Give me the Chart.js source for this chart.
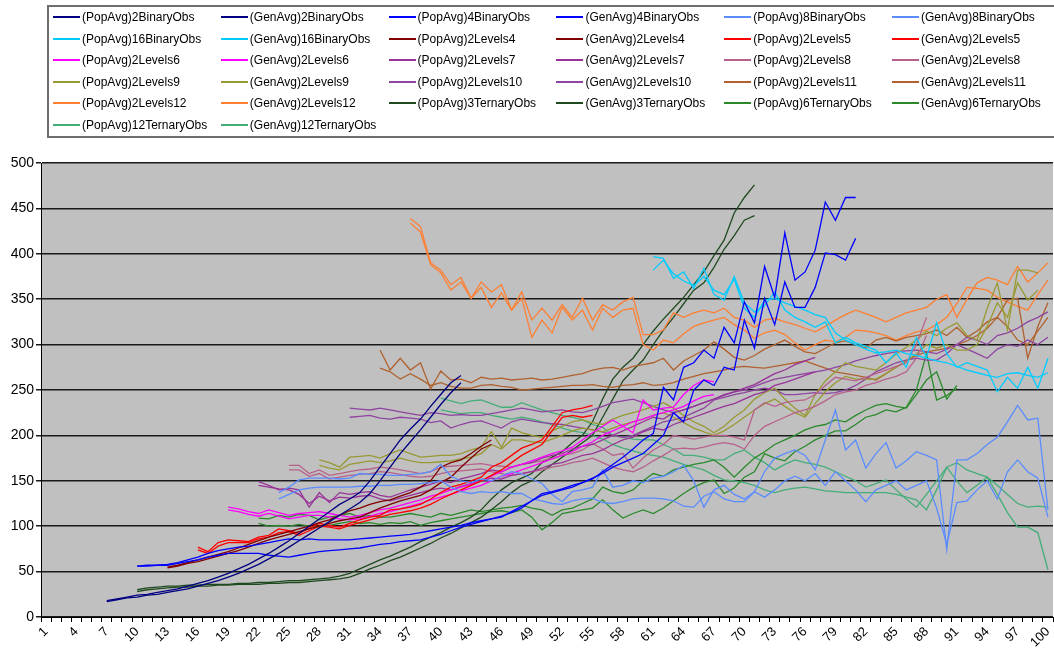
<!DOCTYPE html>
<html>
<head>
<meta charset="utf-8">
<script src="https://cdn.jsdelivr.net/npm/chart.js@4.4.1/dist/chart.umd.min.js"></script>
<style>
body { margin: 0; background: #fff; }
#wrap { position: relative; width: 1054px; height: 654px; overflow: hidden; }
#chart { position: absolute; left: 0; top: 0; }
#legend { position: absolute; left: 47px; top: 5px; width: 1030px; height: 129px; border: 2px solid #6e6e6e; }
.item { position: absolute; height: 14px; font: 12px "Liberation Sans", Arial, sans-serif; color: #000; white-space: nowrap; line-height: 14px; }
.item .ln { position: absolute; left: 0; top: 6px; width: 27px; height: 2px; }
.item .tx { position: absolute; left: 29px; top: 0; }
</style>
</head>
<body>
<div id="wrap">
  <canvas id="chart" width="1054" height="654"></canvas>
  <div id="legend"></div>
</div>
<script>
// --- generations (x categories) ---
const generations = ['1','2','3','4','5','6','7','8','9','10','11','12','13','14','15','16','17','18','19','20',
  '21','22','23','24','25','26','27','28','29','30','31','32','33','34','35','36','37','38','39','40',
  '41','42','43','44','45','46','47','48','49','50','51','52','53','54','55','56','57','58','59','60',
  '61','62','63','64','65','66','67','68','69','70','71','72','73','74','75','76','77','78','79','80',
  '81','82','83','84','85','86','87','88','89','90','91','92','93','94','95','96','97','98','99','100'];
const yTicks = [0, 50, 100, 150, 200, 250, 300, 350, 400, 450, 500];

// --- series values, each starts at the generation given in the series table below ---
const pop2Binary = [18,20,22,24,25,27,29,31,34,37, 40,44,48,53,58,64,70,77,84,92, 100,108,116,124,130,137,150,165,180,195, 207,218,232,245,258,266];
const gen2Binary = [17,19,21,22,24,25,27,29,31,34, 37,40,44,48,53,58,64,70,77,84, 91,98,105,112,119,126,136,150,165,180, 193,206,220,234,247,258];

const pop4Binary = [56,57,57,58,60,63,66,70,73,75, 77,78,80,82,84,86,85,86,85,85, 85,85,86,87,88,89,90,91,93,95,
  97,99,101,104,106,108,111,115,120,128, 136,138,141,145,148,152,160,168,176,185, 195,202,253,239,275,280,294,285,319,302,
  347,324,386,352,423,371,380,404,457,437, 462,462];
const gen4Binary = [56,56,57,57,59,61,63,66,68,70, 70,70,70,68,67,66,68,70,72,73, 74,75,76,78,80,81,83,84,85,88,
  91,95,99,102,105,108,110,116,122,128, 134,137,140,143,148,153,158,165,170,175, 180,190,200,225,215,250,261,255,275,272,
  327,296,351,322,369,341,341,363,401,399, 393,417];

const pop8Binary = [137,143,151,153,153,153, 152,153,158,157,157,156,156,157,158,160, 168,155,150,148,152,150,155,160,158,152,
  147,135,127,138,140,143,162,143,145,150, 148,153,155,160,167,150,121,140,145,135, 130,138,160,175,180,184,178,162,195,228,
  184,195,164,180,192,164,172,182,178,173, 74,173,173,180,190,198,215,233,217,219, 118];
const gen8Binary = [130,135,140,142,143,143, 143,143,144,144,145,145,146,146,147,148, 150,143,138,136,138,137,138,136,136,130,
  128,125,124,128,130,131,126,125,127,130, 131,131,130,128,122,121,133,138,130,127, 127,138,132,140,150,155,150,158,145,160,
  150,140,127,140,145,150,140,145,150,120, 80,126,128,140,150,130,160,173,160,153, 110];

const pop16Binary = [397,395,373,380,362,384,355,349,375, 346,336,343,358,338,330,325,319,325,302,
  308,302,298,294,280,291,275,308,286,324, 290,275,280,276,272,248,264,252,275,252, 285];
const gen16Binary = [382,393,378,370,365,375,360,355,372, 340,330,349,351,346,342,338,333,330,313,
  305,300,295,291,292,294,290,288,285,282, 280,276,272,269,266,264,268,269,266,264, 269];

const pop2Levels4 = [55,57,60,63,66,69,72,76,80,84, 88,91,94,97,100,104,107,112,117,120, 124,127,129,133,137,143,150,165,170,173, 180,188,195];
const gen2Levels4 = [54,56,59,61,64,67,70,73,77,81, 85,88,91,94,97,100,103,106,108,110, 115,120,124,128,131,134,140,148,154,165, 175,185,190];

const pop2Levels5 = [77,72,82,85,84,83,88,90,97,95, 92,98,103,101,99,103,107,110,112,118, 119,121,124,130,137,143,146,150,154,165, 170,178,186,190,195,210,225,228,230,233];
const gen2Levels5 = [74,70,78,82,82,82,86,88,93,94, 90,95,100,99,97,101,104,107,110,113, 115,117,120,124,130,135,140,145,150,156, 162,170,178,184,190,205,220,222,220,222];

const pop2Levels6 = [121,119,116,114,118,115,112,114,115,116, 114,112,110,112,115,118,120,123,126,129, 133,136,140,143,146,150,155,160,165,168,
  172,176,180,183,187,195,203,210,217,210, 203,239,228,230,231,245,255,261,259];
const gen2Levels6 = [118,116,113,111,114,111,108,110,112,112, 110,108,107,108,111,114,116,119,122,125, 129,132,135,139,142,145,150,155,158,162,
  166,170,174,178,182,188,193,200,205,210, 215,218,222,225,228,232,238,243,245];

const pop2Levels7 = [149,145,140,142,140,121,137,126,137,135, 137,138,134,132,136,140,143,146,150,148, 152,155,158,162,160,165,168,170,175,178,
  180,185,188,190,195,200,205,210,215,220, 218,225,228,232,236,240,245,248,252,256, 262,268,272,278,282,286];
const gen2Levels7 = [145,143,141,140,135,125,133,128,132,131, 133,134,130,128,131,134,137,140,142,140, 144,147,150,153,152,156,158,160,164,168,
  170,174,178,180,184,190,195,198,204,208, 206,212,216,220,224,228,232,235,240,245, 248,255,258,262,266,270];

const pop2Levels8 = [167,167,158,162,156,158,160,162,163,165, 164,162,160,158,160,165,166,167,168,169, 167,166,165,168,170,172,175,178,180,184,
  191,185,178,180,164,175,184,190,200,198, 196,198,200,200,198,195,228,236,232,236, 238,239,245,255,264,262,260,264,268,272, 276,280,300,330];
const gen2Levels8 = [162,162,155,158,152,154,156,157,158,160, 159,157,155,154,155,158,160,161,162,163, 160,158,156,158,160,162,165,167,170,172,
  175,170,165,162,160,165,172,178,185,186, 185,187,190,192,190,185,200,210,215,220, 225,228,232,238,245,248,250,255,258,262, 265,270,285,310];

const pop2Levels9 = [173,170,165,176,177,178,175,180,184,180, 176,177,178,178,180,184,187,204,187,208, 203,200,198,205,210,215,217,214,212,218,
  222,225,228,232,236,230,222,215,210,203, 210,220,228,240,247,252,240,230,222,245, 260,270,280,276,274,272,280,290,297,305,
  315,310,318,324,310,305,340,368,316,382, 382,379];
const gen2Levels9 = [167,164,162,168,170,172,170,172,175,172, 170,170,171,172,174,176,180,190,185,195, 195,193,192,196,200,205,208,206,204,208,
  212,215,218,222,225,220,214,208,204,200, 205,212,220,228,235,240,232,225,220,235, 248,258,265,262,262,262,268,275,282,290,
  300,296,300,294,294,300,320,346,330,368, 349,360];

const pop2Levels10 = [230,229,228,230,228,226,224,222,225,224, 222,223,222,222,224,226,228,230,228,226, 227,228,226,225,228,232,236,238,240,236,
  232,228,225,228,232,236,240,244,248,250, 254,258,262,264,266,268,270,272,275,278, 282,285,288,290,292,293,294,292,290,295,
  300,308,305,300,310,313,318,325,330,336];
const gen2Levels10 = [220,221,222,219,218,220,219,218,214,216, 208,212,215,216,212,208,215,218,216,214, 213,212,210,208,206,204,200,198,200,205,
  210,215,217,220,225,230,239,242,245,247, 250,252,250,245,245,246,247,246,247,250, 255,262,270,275,280,283,285,283,283,290,
  300,295,290,285,295,300,298,305,300,308];

const pop2Levels11 = [294,272,285,272,280,251,271,261,262,258, 264,262,263,261,262,263,261,262,264,266, 268,272,274,275,272,276,278,280,285,272,
  282,288,294,303,295,286,283,288,295,300, 305,298,292,290,296,302,304,300,296,305, 308,304,308,310,312,316,310,319,308,315,
  325,330,349,351,285,320,346];
const gen2Levels11 = [274,270,262,268,262,255,258,254,252,252, 255,256,254,253,250,251,252,253,254,255, 255,256,254,253,255,256,258,255,256,258,
  262,265,268,270,272,275,276,275,274,276, 278,280,282,278,274,270,268,266,264,261, 268,275,282,288,292,294,296,300,304,310,
  318,330,320,305,300,315,330];

const pop2Levels12 = [439,430,390,382,366,374,351,369,358,366, 338,358,327,340,327,344,330,351,327,344, 338,347,352,311,311,316,
  335,330,335,338,335,340,330,327,319,327, 329,325,322,318,314,320,327,333,338,334, 330,325,330,335,338,341,350,355,330,350,
  368,374,371,366,386,369,379,390];
const gen2Levels12 = [434,424,388,379,360,369,351,363,341,357, 338,351,308,327,313,341,327,338,316,340, 330,338,340,300,294,305,
  302,312,320,324,327,330,322,316,307,313, 316,311,302,294,300,305,303,308,316,315, 313,310,305,310,314,316,322,330,345,363,
  362,360,352,347,342,338,355,371];

const pop3Ternary = [30,32,33,34,34,35,35,36,36,36, 37,37,38,38,39,40,40,41,42,43, 45,48,53,58,63,67,72,77,83,88,
  93,99,104,110,118,130,140,148,153,158, 170,176,182,192,200,215,240,262,275,285, 300,315,328,340,352,366,380,398,415,445, 462,476];
const gen3Ternary = [28,30,31,32,33,33,34,34,35,35, 36,36,36,37,37,38,38,39,40,41, 42,44,48,53,57,62,66,71,76,81,
  87,92,98,104,110,118,127,137,145,150, 160,168,176,184,192,200,220,240,260,272, 283,300,316,330,345,360,368,385,405,420, 437,442];

const pop6Ternary = [109,108,112,110,113,112,107,110,112,114, 110,112,110,110,112,114,112,110,114,112, 115,118,116,118,120,121,123,120,118,112,
  118,120,125,130,143,138,136,140,150,158, 155,162,165,168,170,173,165,154,165,175, 182,190,195,200,206,210,212,217,215,222,
  228,233,235,232,230,245,261,270,240,255];
const gen6Ternary = [103,100,101,100,102,100,99,101,103,105, 103,104,102,104,103,105,101,104,106,108, 110,112,114,116,117,115,118,110,96,104,
  114,116,118,120,129,118,109,114,118,114, 120,128,136,143,148,151,136,142,154,160, 180,175,172,182,188,195,200,205,205,212,
  220,223,228,226,231,250,290,239,244,252];

const pop12Ternary = [241,238,235,238,239,235,231,231,236,232, 228,225,222,220,217,212,209,200,198,196, 195,195,190,185,178,178,176,173,173,180,
  184,176,170,162,168,173,170,168,165,160, 155,150,143,147,151,140,130,121,135,150, 165,170,162,158,154,145,135,125,121,122,121];
const gen12Ternary = [228,226,224,225,225,222,220,218,220,218, 215,212,208,205,203,200,196,190,186,183, 180,178,176,172,168,165,162,156,151,150,
  148,145,140,137,140,142,143,141,139,138, 137,137,137,137,137,135,132,129,118,140, 165,150,137,145,154,135,115,99,99,93,52];

// label, first generation, values, colour
const series = [
  ['(PopAvg)2BinaryObs', 7, pop2Binary, '#000080'],
  ['(GenAvg)2BinaryObs', 7, gen2Binary, '#000080'],
  ['(PopAvg)4BinaryObs', 10, pop4Binary, '#0000ff'],
  ['(GenAvg)4BinaryObs', 10, gen4Binary, '#0000ff'],
  ['(PopAvg)8BinaryObs', 24, pop8Binary, '#5a8cff'],
  ['(GenAvg)8BinaryObs', 24, gen8Binary, '#5a8cff'],
  ['(PopAvg)16BinaryObs', 61, pop16Binary, '#00ccff'],
  ['(GenAvg)16BinaryObs', 61, gen16Binary, '#00ccff'],
  ['(PopAvg)2Levels4', 13, pop2Levels4, '#800000'],
  ['(GenAvg)2Levels4', 13, gen2Levels4, '#800000'],
  ['(PopAvg)2Levels5', 16, pop2Levels5, '#ff0000'],
  ['(GenAvg)2Levels5', 16, gen2Levels5, '#ff0000'],
  ['(PopAvg)2Levels6', 19, pop2Levels6, '#ff00ff'],
  ['(GenAvg)2Levels6', 19, gen2Levels6, '#ff00ff'],
  ['(PopAvg)2Levels7', 22, pop2Levels7, '#993399'],
  ['(GenAvg)2Levels7', 22, gen2Levels7, '#993399'],
  ['(PopAvg)2Levels8', 25, pop2Levels8, '#b8608c'],
  ['(GenAvg)2Levels8', 25, gen2Levels8, '#b8608c'],
  ['(PopAvg)2Levels9', 28, pop2Levels9, '#999933'],
  ['(GenAvg)2Levels9', 28, gen2Levels9, '#999933'],
  ['(PopAvg)2Levels10', 31, pop2Levels10, '#8e44a0'],
  ['(GenAvg)2Levels10', 31, gen2Levels10, '#8e44a0'],
  ['(PopAvg)2Levels11', 34, pop2Levels11, '#b0612f'],
  ['(GenAvg)2Levels11', 34, gen2Levels11, '#b0612f'],
  ['(PopAvg)2Levels12', 37, pop2Levels12, '#ff7f33'],
  ['(GenAvg)2Levels12', 37, gen2Levels12, '#ff7f33'],
  ['(PopAvg)3TernaryObs', 10, pop3Ternary, '#1f4a1f'],
  ['(GenAvg)3TernaryObs', 10, gen3Ternary, '#1f4a1f'],
  ['(PopAvg)6TernaryObs', 22, pop6Ternary, '#2a8a2a'],
  ['(GenAvg)6TernaryObs', 22, gen6Ternary, '#2a8a2a'],
  ['(PopAvg)12TernaryObs', 40, pop12Ternary, '#45ad78'],
  ['(GenAvg)12TernaryObs', 40, gen12Ternary, '#45ad78'],
];

// --- legend (6 columns grid like the spreadsheet legend) ---
const legend = document.getElementById('legend');
series.forEach((s, i) => {
  const it = document.createElement('div');
  it.className = 'item';
  it.style.left = (4 + (i % 6) * 167.8) + 'px';
  it.style.top = (3 + Math.floor(i / 6) * 21.5) + 'px';
  it.innerHTML = '<span class="ln" style="background:' + s[3] + '"></span><span class="tx">' + s[0] + '</span>';
  legend.appendChild(it);
});

// grey plot background
const plotBg = {
  id: 'plotBg',
  beforeDraw(chart) {
    const a = chart.chartArea, c = chart.ctx;
    c.save();
    c.fillStyle = '#c0c0c0';
    c.fillRect(a.left, a.top, a.right - a.left, a.bottom - a.top);
    c.restore();
  }
};

const datasets = series.map(s => ({
  label: s[0],
  data: new Array(s[1] - 1).fill(null).concat(s[2]),
  borderColor: s[3],
  backgroundColor: s[3],
  borderWidth: 1.3,
  pointRadius: 0,
  tension: 0,
  fill: false
}));

const font = '"Liberation Sans", Arial, sans-serif';

new Chart(document.getElementById('chart'), {
  type: 'line',
  data: { labels: generations, datasets: datasets },
  plugins: [plotBg],
  options: {
    responsive: false,
    animation: false,
    layout: { padding: { top: 163, right: 1, left: 0, bottom: 0 } },
    plugins: { legend: { display: false }, tooltip: { enabled: false } },
    scales: {
      x: {
        offset: true,
        grid: { offset: true, drawOnChartArea: false, drawTicks: true, tickLength: 5, color: '#000' },
        border: { color: '#000', width: 1 },
        ticks: {
          autoSkip: false, maxRotation: 45, minRotation: 45, padding: 2,
          color: '#000', font: { family: font, size: 13 },
          callback: (v, i) => (i % 3 === 0 ? generations[i] : '')
        },
        // keep the plot reaching the right edge like the original
        afterFit: sc => { sc.height = 37; sc.paddingLeft = 0; sc.paddingRight = 0; }
      },
      y: {
        min: 0, max: 500,
        afterBuildTicks: sc => { sc.ticks = yTicks.map(v => ({ value: v })); },
        grid: { color: '#1a1a1a', lineWidth: 1.5, drawTicks: true, tickLength: 5 },
        border: { color: '#000', width: 1 },
        ticks: { color: '#000', padding: 2, font: { family: font, size: 14 } },
        afterFit: sc => { sc.width = 41; }
      }
    }
  }
});
</script>
</body>
</html>
